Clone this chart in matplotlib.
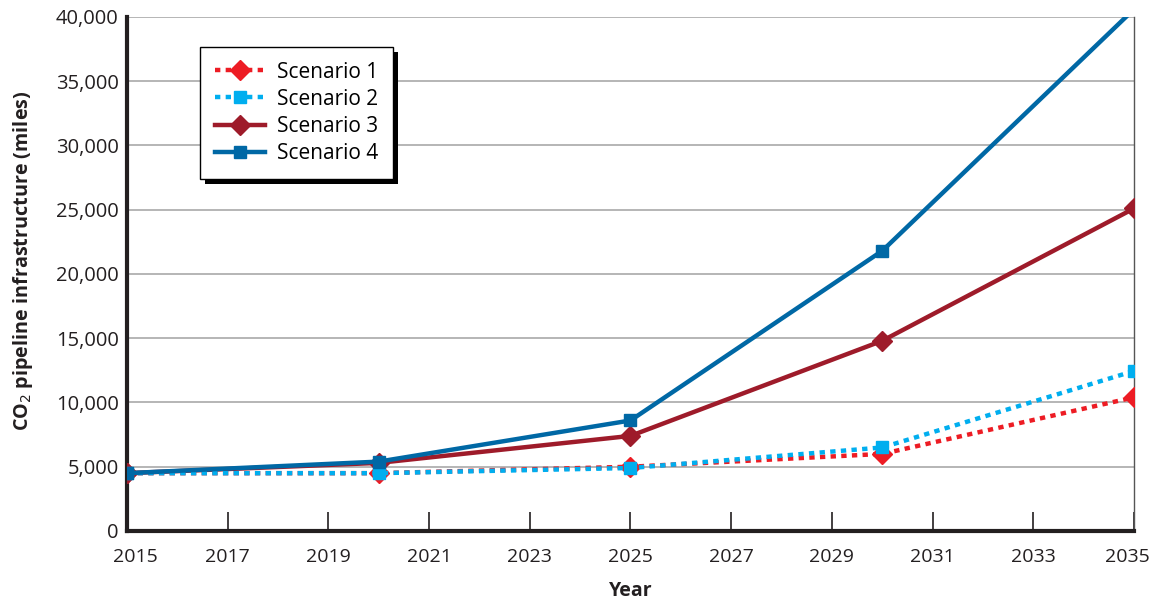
import matplotlib
matplotlib.use('Agg')
import matplotlib.pyplot as plt
from matplotlib.patches import Rectangle
from matplotlib.ticker import FuncFormatter, MultipleLocator
from matplotlib.transforms import ScaledTranslation

plt.rcParams['font.family'] = ['Open Sans', 'DejaVu Sans']

# Datos
years = [2015, 2020, 2025, 2030, 2035]
scenario1 = [4500, 4500, 5000, 6000, 10400]
scenario2 = [4500, 4500, 4900, 6500, 12450]
scenario3 = [4500, 5300, 7400, 14800, 25100]
scenario4 = [4500, 5400, 8600, 21800, 40600]

fig = plt.figure(figsize=(11.54, 6), dpi=100)
ax = fig.add_axes([0.110, 0.115, 0.8727, 0.8568])

ax.plot(years, scenario1, color='#ED1C24', linewidth=3.2, linestyle=(0, (1.2, 1.2)),
        marker='D', markersize=10.5, label='Scenario 1', zorder=3)
ax.plot(years, scenario2, color='#00AEEF', linewidth=3.2, linestyle=(0, (1.2, 1.2)),
        marker='s', markersize=9, label='Scenario 2', zorder=4)
ax.plot(years, scenario3, color='#9E1B2A', linewidth=3.2,
        marker='D', markersize=10.5, label='Scenario 3', zorder=3.5)
ax.plot(years, scenario4, color='#0068A5', linewidth=3.2,
        marker='s', markersize=9, label='Scenario 4', zorder=4.5)

ax.set_xlim(2015, 2035)
ax.set_ylim(0, 40000)
ax.set_xticks(range(2015, 2036, 2))
ax.yaxis.set_major_locator(MultipleLocator(5000))
ax.yaxis.set_major_formatter(FuncFormatter(lambda v, p: f'{int(v):,}'))

ax.grid(axis='y', color='#b0b0b0', linewidth=1.3)
ax.set_axisbelow(True)

ax.spines['left'].set_linewidth(3)
ax.spines['bottom'].set_linewidth(3)
ax.spines['left'].set_color('#231f20')
ax.spines['bottom'].set_color('#231f20')
ax.spines['right'].set_color('#555555')
ax.spines['right'].set_linewidth(1)
ax.spines['top'].set_visible(False)

ax.tick_params(axis='x', direction='in', length=14, width=1.2, color='#231f20',
               labelsize=14, pad=12, labelcolor='#231f20')
ax.tick_params(axis='y', length=0, labelsize=14.5, pad=6, labelcolor='#231f20')

# primer y ultimo año desplazados hacia adentro como en el original
xlabels = ax.get_xticklabels()
xlabels[0].set_transform(xlabels[0].get_transform() + ScaledTranslation(8 / 100, 0, fig.dpi_scale_trans))
xlabels[-1].set_transform(xlabels[-1].get_transform() + ScaledTranslation(-7 / 100, 0, fig.dpi_scale_trans))

ax.set_xlabel('Year', fontsize=14, fontweight='bold', color='#231f20', labelpad=11)
ax.set_ylabel('CO$_2$ pipeline infrastructure (miles)', fontsize=14.2, fontweight='bold',
              color='#231f20')
ax.yaxis.set_label_coords(-0.091, 0.525)

leg = ax.legend(loc='upper left', bbox_to_anchor=(0.0725, 0.9416), fontsize=15,
                frameon=True, fancybox=False, shadow=False,
                edgecolor='black', handlelength=2.4, borderpad=0.7, labelspacing=0.3,
                handletextpad=0.6, borderaxespad=0)
leg.get_frame().set_linewidth(1)
leg.get_frame().set_alpha(1)
leg.set_zorder(10)

# sombra negra del cuadro de leyenda
fig.canvas.draw()
bb = leg.get_window_extent().transformed(fig.transFigure.inverted())
dx, dy = 5 / 1154, 5 / 600
shadow = Rectangle((bb.x0 + dx, bb.y0 - dy), bb.width, bb.height, transform=fig.transFigure,
                   facecolor='black', edgecolor='none', zorder=9)
ax.add_artist(shadow)

fig.savefig('out.png', dpi=100)
